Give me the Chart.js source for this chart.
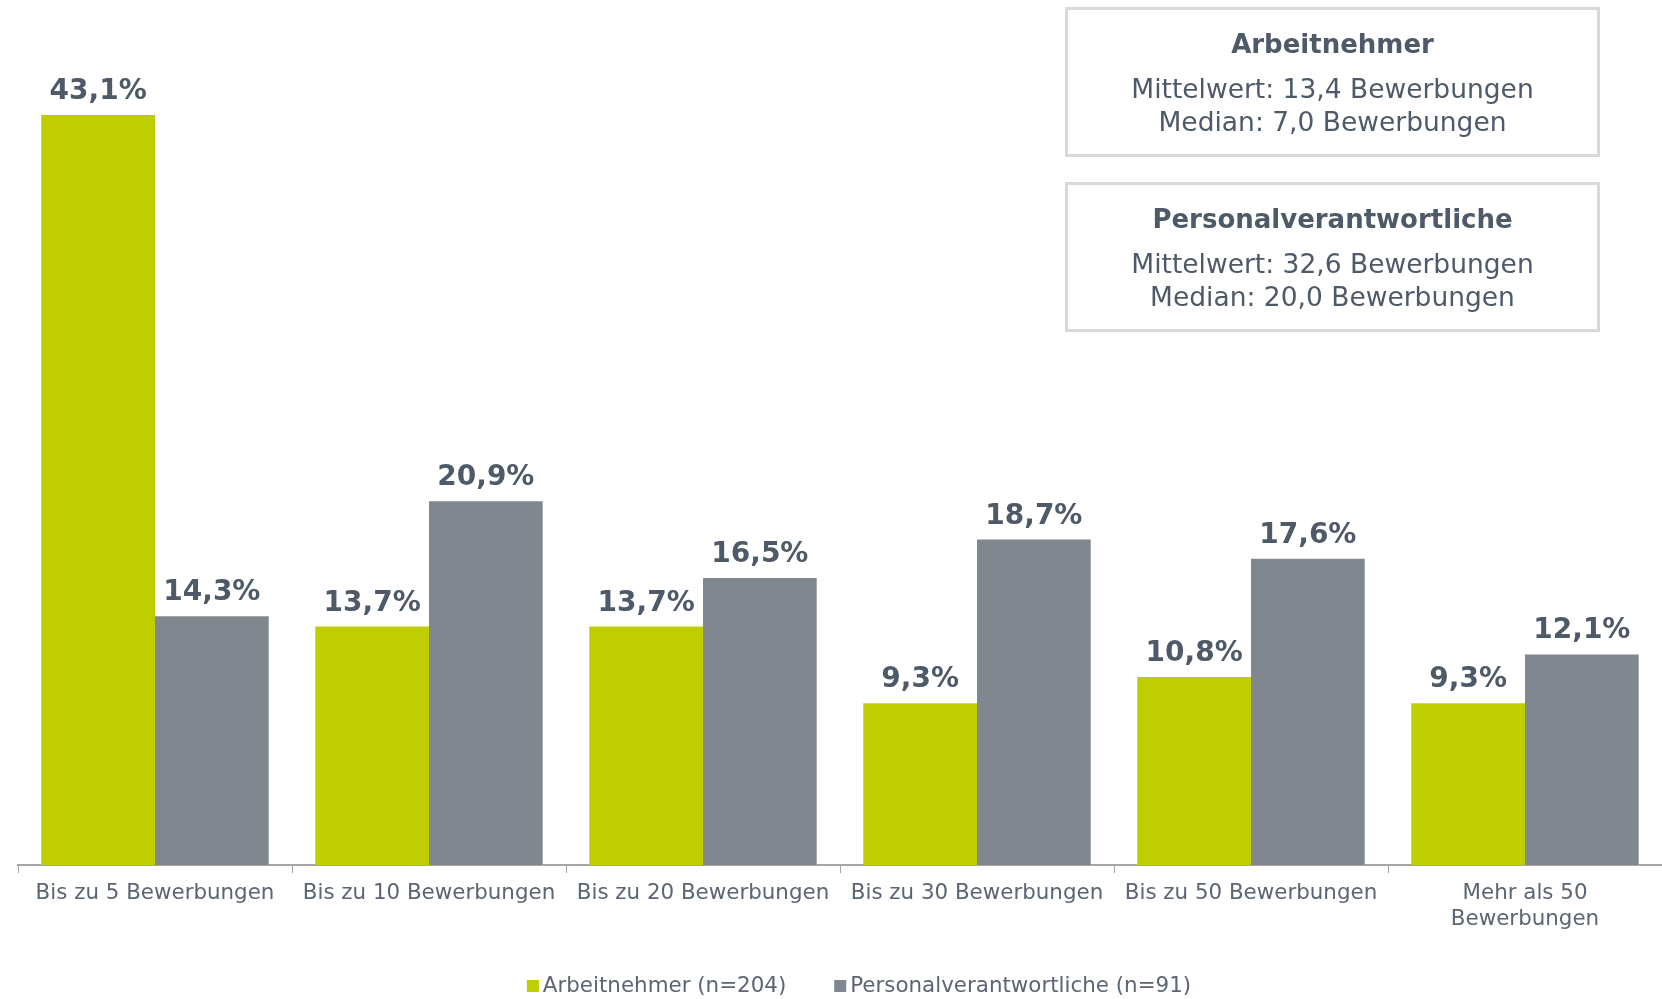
<!DOCTYPE html>
<html>
<head>
<meta charset="utf-8">
<script src="https://cdn.jsdelivr.net/npm/chart.js@4/dist/chart.umd.min.js"></script>
<style>
  body { margin: 0; background: #fff; font-family: "DejaVu Sans", sans-serif; }
  #wrap { position: relative; width: 1662px; height: 999px; }
  .info {
    position: absolute; left: 1065px; width: 535px; height: 150px;
    border: 3px solid #d9d9d9; box-sizing: border-box; text-align: center;
    color: #4f5a69;
  }
  .info b { display: block; font-size: 26px; line-height: 33px; margin-top: 18px; margin-bottom: 11px; }
  .info div { font-size: 26.5px; line-height: 33px; }
</style>
</head>
<body>
<div id="wrap">
  <canvas id="chart"></canvas>
  <div class="info" style="top:7px"><b>Arbeitnehmer</b><div>Mittelwert: 13,4 Bewerbungen<br>Median: 7,0 Bewerbungen</div></div>
  <div class="info" style="top:182px"><b>Personalverantwortliche</b><div>Mittelwert: 32,6 Bewerbungen<br>Median: 20,0 Bewerbungen</div></div>
</div>
<script>
const categories = [
  'Bis zu 5 Bewerbungen',
  'Bis zu 10 Bewerbungen',
  'Bis zu 20 Bewerbungen',
  'Bis zu 30 Bewerbungen',
  'Bis zu 50 Bewerbungen',
  ['Mehr als 50', 'Bewerbungen']
];
const arbeitnehmer = [43.1, 13.7, 13.7, 9.3, 10.8, 9.3];
const personal = [14.3, 20.9, 16.5, 18.7, 17.6, 12.1];
const seriesNames = ['Arbeitnehmer (n=204)', 'Personalverantwortliche (n=91)'];

const textColor = '#4f5a69';
const tickColor = '#5b6573';

// value labels above bars
const barLabels = {
  id: 'barLabels',
  afterDatasetsDraw(chart) {
    const ctx = chart.ctx;
    ctx.save();
    ctx.font = 'bold 28px "DejaVu Sans"';
    ctx.fillStyle = textColor;
    ctx.textAlign = 'center';
    ctx.textBaseline = 'alphabetic';
    chart.data.datasets.forEach(function (ds, i) {
      chart.getDatasetMeta(i).data.forEach(function (bar, j) {
        const txt = ds.data[j].toFixed(1).replace('.', ',') + '%';
        ctx.fillText(txt, bar.x, bar.y - 16);
      });
    });
    ctx.restore();
  }
};

// legend drawn by hand: tight gap between square and text, like the original
const bottomLegend = {
  id: 'bottomLegend',
  afterDraw(chart) {
    const ctx = chart.ctx;
    const ds = chart.data.datasets;
    ctx.save();
    ctx.font = '21.4px "DejaVu Sans"';
    ctx.textBaseline = 'middle';
    const box = 12, gap = 4, between = 48;
    let total = 0;
    ds.forEach(function (d, i) {
      total += box + gap + ctx.measureText(d.label).width + (i ? between : 0);
    });
    let x = 859 - total / 2;
    const y = 986;
    ds.forEach(function (d) {
      ctx.fillStyle = d.backgroundColor;
      ctx.fillRect(x, y - box / 2, box, box);
      x += box + gap;
      ctx.fillStyle = tickColor;
      ctx.fillText(d.label, x, y);
      x += ctx.measureText(d.label).width + between;
    });
    ctx.restore();
  }
};

const ctx = document.getElementById('chart').getContext('2d');
new Chart(ctx, {
  type: 'bar',
  data: {
    labels: categories,
    datasets: [
      { label: seriesNames[0], data: arbeitnehmer, backgroundColor: '#bfce00' },
      { label: seriesNames[1], data: personal, backgroundColor: '#80878f' }
    ]
  },
  options: {
    responsive: true,
    maintainAspectRatio: false,
    animation: false,
    categoryPercentage: 0.83,
    barPercentage: 1,
    layout: { padding: { left: 18, right: 0, top: 82, bottom: 0 } },
    plugins: {
      tooltip: { enabled: false },
      legend: { display: false }
    },
    scales: {
      y: { display: false, min: 0, max: 45 },
      x: {
        afterFit: function (scale) {
          scale.height = 999 - 865;
        },
        border: { display: true, color: '#a6a6a6', width: 2 },
        grid: { display: true, drawOnChartArea: false, drawTicks: true, tickLength: 8, color: '#a6a6a6', offset: true },
        ticks: { color: tickColor, padding: 8, maxRotation: 0, font: { family: 'DejaVu Sans', size: 21.4 } }
      }
    }
  },
  plugins: [barLabels, bottomLegend]
});
</script>
</body>
</html>
